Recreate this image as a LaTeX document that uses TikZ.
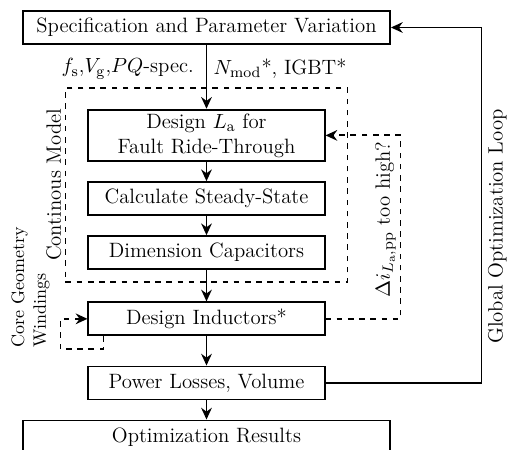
\documentclass[tikz,border=0pt]{standalone}
\usepackage{amsmath}
\usetikzlibrary{arrows.meta,positioning,calc,fit}

\begin{document}
\begin{tikzpicture}[
    x=0.0188cm, y=-0.0188cm,
    node distance=0.36cm and 1.0cm,
    every node/.append style={font=\fontsize{11.1pt}{13.4pt}\selectfont},
    block/.style={rectangle, draw, line width=1pt, align=center, minimum width=4.44cm, minimum height=0.62cm, inner sep=2pt},
    wideblock/.style={block, minimum width=6.9cm},
    frame/.style={draw, dashed, line width=1pt, inner sep=0pt},
    arrow/.style={-{Stealth[length=2.2mm,width=2mm]}, line width=1pt},
    dasharrow/.style={arrow, dashed}
]
    \useasboundingbox (0,0) rectangle (508,450);

    \node [wideblock] (spec) at (206.5,27.5) {Specification and Parameter Variation};
    \node [block, minimum height=0.96cm, below=1.2cm of spec] (designLa) {Design $L_\mathrm{a}$ for\\Fault Ride-Through};
    \node [block, below=of designLa] (steady) {Calculate Steady-State};
    \node [block, below=of steady] (caps) {Dimension Capacitors};
    \node [block, below=0.59cm of caps] (inductors) {Design Inductors*};
    \node [block, below=0.55cm of inductors] (losses) {Power Losses, Volume};
    \node [wideblock, below=of losses] (results) {Optimization Results};

    % continuous model frame
    \coordinate (mtl) at ($(designLa.north west)+(-22,-21)$);
    \coordinate (mbr) at ($(caps.south east)+(22,12)$);
    \node [frame, fit=(mtl)(mbr)] (model) {};
    \node [rotate=90, anchor=south, inner sep=1.5pt] at (model.west) {Continous Model};

    \draw [arrow] (spec) -- (designLa)
        node [pos=0.375, left=3pt] (specA) {$f_\mathrm{s}$,$V_\mathrm{g}$,$PQ$-spec.}
        node [pos=0.375, right] (specB) {$N_\mathrm{mod}$*, IGBT*};
    \draw [arrow] (designLa) -- (steady);
    \draw [arrow] (steady) -- (caps);
    \draw [arrow] (caps) -- (inductors);
    \draw [arrow] (inductors) -- (losses);
    \draw [arrow] (losses) -- (results);

    % ripple check
    \draw [dasharrow] (inductors.east) -- ++(75,0) |-
        node [pos=0.27, rotate=90, anchor=south, inner sep=2pt] (ripple) {$\Delta i_{L_\mathrm{a},\mathrm{pp}}$ too high?} (designLa.east);

    % inductor loop
    \draw [dasharrow] ($(inductors.south west)+(16,0)$) -- ++(0,13) -| ($(inductors.west)+(-27,0)$) -- (inductors.west);
    \node [rotate=90, anchor=west, align=left, inner sep=0pt, font=\fontsize{9.6pt}{11.7pt}\selectfont] (coreLbl) at ($(inductors.west)+(-57,29)$) {Core Geometry\\Windings};

    % global loop
    \draw [arrow] (losses.east) -- ++(156,0) |-
        node [pos=0.22, rotate=90, anchor=north, inner sep=3pt] (globalLbl) {Global Optimization Loop} (spec.east);
\end{tikzpicture}
\end{document}
